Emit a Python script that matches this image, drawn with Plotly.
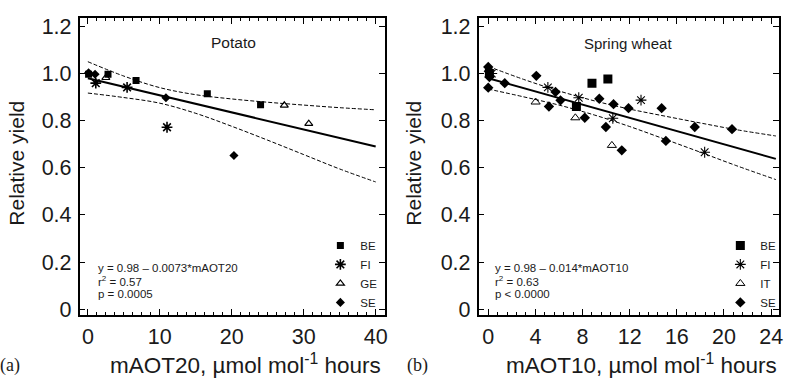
import plotly.graph_objects as go

# ---------------- Panel (a): Potato ----------------
a_be_x = [0.1, 2.8, 6.7, 16.6, 24.0]
a_be_y = [0.997, 0.997, 0.970, 0.914, 0.867]
a_fi_x = [1.1, 5.45, 11.0]
a_fi_y = [0.959, 0.941, 0.772]
a_ge_x = [2.5, 27.3, 30.7]
a_ge_y = [0.982, 0.865, 0.787]
a_se_x = [0.1, 1.0, 10.85, 20.3]
a_se_y = [1.003, 0.997, 0.897, 0.652]
a_fit_x = [0, 40]
a_fit_y = [0.98, 0.69]
a_band_x = [0, 5, 10, 15, 20, 25, 30, 35, 40]
a_band_up = [1.050, 0.989, 0.940, 0.910, 0.892, 0.878, 0.866, 0.855, 0.846]
a_band_lo = [0.917, 0.898, 0.874, 0.831, 0.776, 0.717, 0.656, 0.595, 0.540]

# ---------------- Panel (b): Spring wheat ----------------
b_be_x = [0.1, 7.48, 8.80, 10.15]
b_be_y = [1.000, 0.860, 0.959, 0.977]
b_fi_x = [0.3, 5.06, 7.68, 10.57, 12.96, 18.36]
b_fi_y = [1.000, 0.941, 0.897, 0.810, 0.887, 0.666]
b_it_x = [4.02, 7.39, 10.49]
b_it_y = [0.879, 0.812, 0.695]
b_se_x = [0.0, 0.05, 0.1, 0.0, 1.4, 4.08, 5.15, 5.71, 6.13, 8.19, 9.42, 9.98,
          10.63, 11.33, 11.90, 14.71, 15.07, 17.52, 20.68]
b_se_y = [1.028, 1.010, 0.985, 0.940, 0.959, 0.990, 0.860, 0.922, 0.886, 0.812,
          0.893, 0.773, 0.870, 0.674, 0.853, 0.853, 0.714, 0.773, 0.764]
b_fit_x = [0, 24.4]
b_fit_y = [0.98, 0.638]
b_band_x = [0, 3, 6, 9, 12, 15, 18, 21, 24.4]
b_band_up = [1.030, 0.975, 0.926, 0.884, 0.849, 0.819, 0.790, 0.762, 0.735]
b_band_lo = [0.934, 0.901, 0.866, 0.824, 0.775, 0.721, 0.666, 0.610, 0.550]

y_tickvals = [0, 0.2, 0.4, 0.6, 0.8, 1.0, 1.2]
y_ticktext = ["0", "0.2", "0.4", "0.6", "0.8", "1.0", "1.2"]
a_xtickvals = [0, 10, 20, 30, 40]
b_xtickvals = [0, 4, 8, 12, 16, 20, 24]

FONT = "Liberation Sans"
SERIF = "Liberation Serif"
INK = "#1a1a1a"

fig = go.Figure()


def add_panel(xa, ya, legend, series, fit_x, fit_y, band_x, band_up, band_lo):
    for name, xs, ys, sym, size, lw in series:
        fig.add_trace(go.Scatter(
            x=xs, y=ys, mode="markers", name=name, xaxis=xa, yaxis=ya,
            legend=legend,
            marker=dict(symbol=sym, size=size, color="black",
                        line=dict(color="black", width=lw)),
        ))
    fig.add_trace(go.Scatter(x=fit_x, y=fit_y, mode="lines", xaxis=xa, yaxis=ya,
                             showlegend=False, line=dict(color="black", width=2)))
    for yy in (band_up, band_lo):
        fig.add_trace(go.Scatter(x=band_x, y=yy, mode="lines", xaxis=xa, yaxis=ya,
                                 showlegend=False,
                                 line=dict(color="black", width=1, dash="4px,2px",
                                           shape="spline")))


add_panel("x", "y", "legend", [
    ("BE", a_be_x, a_be_y, "square", 7, 0),
    ("FI", a_fi_x, a_fi_y, "asterisk-open", 9, 1.6),
    ("GE", a_ge_x, a_ge_y, "triangle-up-open", 7, 1.2),
    ("SE", a_se_x, a_se_y, "diamond", 7, 0),
], a_fit_x, a_fit_y, a_band_x, a_band_up, a_band_lo)

add_panel("x2", "y2", "legend2", [
    ("BE", b_be_x, b_be_y, "square", 9, 0),
    ("FI", b_fi_x, b_fi_y, "asterisk-open", 9, 1.1),
    ("IT", b_it_x, b_it_y, "triangle-up-open", 8, 1),
    ("SE", b_se_x, b_se_y, "diamond", 8, 0),
], b_fit_x, b_fit_y, b_band_x, b_band_up, b_band_lo)

W, H = 791, 385
ydom = [1 - 320 / H, 1 - 15 / H]
a_dom = [80 / W, 387 / W]
b_dom = [481 / W, 783 / W]
a_rng = [-1.15, 41.3]
b_rng = [-0.82, 24.67]
y_rng = [-0.023, 1.237]

axis_common = dict(showline=True, linecolor="black", linewidth=1.5, mirror="ticks",
                   ticks="inside", tickcolor="black", ticklen=6, tickwidth=1,
                   showgrid=False, zeroline=False, ticklabelstandoff=2,
                   tickfont=dict(family=FONT, size=21.5, color=INK))

top_common = dict(side="top", showline=False, ticks="inside", tickcolor="black",
                  ticklen=6, tickwidth=1, showgrid=False, zeroline=False,
                  showticklabels=False)

fig.update_layout(
    width=W, height=H,
    margin=dict(l=0, r=0, t=0, b=0),
    paper_bgcolor="white", plot_bgcolor="white",
    showlegend=True,
    xaxis=dict(domain=a_dom, range=a_rng, tickvals=a_xtickvals,
               minor=dict(dtick=1.25, tick0=0, ticks="inside", ticklen=3,
                          tickcolor="black", tickwidth=1),
               anchor="y", **axis_common),
    yaxis=dict(domain=ydom, range=y_rng, tickvals=y_tickvals,
               ticktext=y_ticktext, anchor="x", **axis_common),
    xaxis2=dict(domain=b_dom, range=b_rng, tickvals=b_xtickvals,
                minor=dict(dtick=0.8, tick0=0, ticks="inside", ticklen=3,
                           tickcolor="black", tickwidth=1),
                anchor="y2", **axis_common),
    yaxis2=dict(domain=ydom, range=y_rng, tickvals=y_tickvals,
                ticktext=y_ticktext, anchor="x2", **axis_common),
    xaxis3=dict(domain=a_dom, range=a_rng, tickvals=a_xtickvals, overlaying="x",
                anchor="y",
                minor=dict(dtick=1.25, tick0=0, ticks="inside", ticklen=3,
                           tickcolor="black", tickwidth=1), **top_common),
    xaxis4=dict(domain=b_dom, range=b_rng, tickvals=b_xtickvals, overlaying="x2",
                anchor="y2",
                minor=dict(dtick=0.8, tick0=0, ticks="inside", ticklen=3,
                           tickcolor="black", tickwidth=1), **top_common),
    legend=dict(x=322 / W, xanchor="left", y=1 - 234 / H, yanchor="top",
                bgcolor="rgba(0,0,0,0)", font=dict(family=FONT, size=11.5, color=INK),
                itemclick=False),
    legend2=dict(x=724 / W, xanchor="left", y=1 - 234 / H, yanchor="top",
                 bgcolor="rgba(0,0,0,0)", font=dict(family=FONT, size=11.5, color=INK),
                 itemclick=False),
)

# invisible traces to activate the top tick axes
fig.add_trace(go.Scatter(x=a_fit_x, y=a_fit_y, xaxis="x3", yaxis="y", mode="lines",
                         line=dict(width=0), hoverinfo="skip", showlegend=False))
fig.add_trace(go.Scatter(x=b_fit_x, y=b_fit_y, xaxis="x4", yaxis="y2", mode="lines",
                         line=dict(width=0), hoverinfo="skip", showlegend=False))

ann = []


def px_ann(text, x, y, size, xanchor="center", font=FONT, angle=0, color=INK):
    ann.append(dict(text=text, x=x / W, y=1 - y / H, xref="paper", yref="paper",
                    xanchor=xanchor, yanchor="middle", showarrow=False,
                    textangle=angle, font=dict(family=font, size=size, color=color)))


px_ann("Potato", 235, 41, 15.5)
px_ann("Spring wheat", 631, 42, 15)
px_ann("Relative yield", 17, 164, 21, angle=-90)
px_ann("Relative yield", 416, 164, 21, angle=-90)
px_ann("mAOT20, µmol mol<sup>-1</sup> hours", 247, 371, 22.5)
px_ann("mAOT10, µmol mol<sup>-1</sup> hours", 645, 371, 22.5)
px_ann("(a)", 10, 372, 18, font=SERIF)
px_ann("(b)", 420, 372, 18, font=SERIF)

eq_a = ["y = 0.98 – 0.0073*mAOT20", "r<sup>2</sup> = 0.57", "p = 0.0005"]
eq_b = ["y = 0.98 – 0.014*mAOT10", "r<sup>2</sup> = 0.63", "p < 0.0000"]
for i, t in enumerate(eq_a):
    px_ann(t, 96, 272 + 13.5 * i, 11.5, xanchor="left")
for i, t in enumerate(eq_b):
    px_ann(t, 496, 272 + 13.5 * i, 11.5, xanchor="left")

fig.update_layout(annotations=ann)
fig.write_html("out.html")
